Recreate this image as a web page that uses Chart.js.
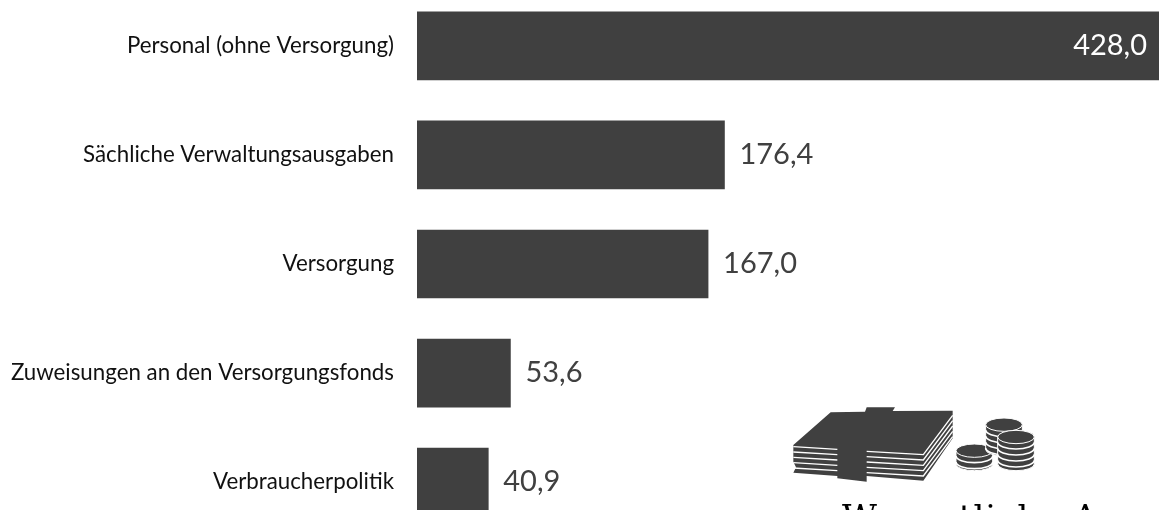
<!DOCTYPE html>
<html>
<head>
<meta charset="utf-8">
<style>
  html, body { margin: 0; padding: 0; background: #fff; overflow: hidden; }
  #wrap { position: relative; width: 1159px; height: 510px; overflow: hidden; }
  #chart { position: absolute; left: 0; top: -37px; display: block; }
  #title { position: absolute; left: 842px; top: 497px; font: 34px "DejaVu Serif", serif; color: #000; white-space: nowrap; letter-spacing: 1px; }
  #money { position: absolute; left: 760px; top: 390px; }
</style>
<script src="https://cdn.jsdelivr.net/npm/chart.js@4"></script>
</head>
<body>
<div id="wrap">
  <canvas id="chart" width="1159" height="602"></canvas>
  <svg id="money" width="399" height="120" viewBox="0 0 1197 360"></svg>
  <div id="title">Wesentliche Ausgaben</div>
</div>
<script>
const categories = [
  'Personal (ohne Versorgung)',
  'Sächliche Verwaltungsausgaben',
  'Versorgung',
  'Zuweisungen an den Versorgungsfonds',
  'Verbraucherpolitik'
];
const values = [428.0, 176.4, 167.0, 53.6, 40.9];

// puts the number right of the bar, or inside when the bar fills the width
const valueLabels = {
  id: 'valueLabels',
  afterDatasetsDraw(chart) {
    const ctx = chart.ctx;
    const meta = chart.getDatasetMeta(0);
    ctx.save();
    ctx.font = '29px Lato';
    ctx.textBaseline = 'middle';
    meta.data.forEach((bar, i) => {
      const text = values[i].toFixed(1).replace('.', ',');
      if (values[i] > 400) {
        ctx.fillStyle = '#fff';
        ctx.textAlign = 'right';
        ctx.fillText(text, chart.chartArea.right - 12, bar.y);
      } else {
        ctx.fillStyle = '#404040';
        ctx.textAlign = 'left';
        ctx.fillText(text, bar.x + 15, bar.y);
      }
    });
    ctx.restore();
  }
};

new Chart(document.getElementById('chart'), {
  type: 'bar',
  data: {
    labels: categories,
    datasets: [{
      data: values,
      backgroundColor: '#404040',
      barThickness: 68,
      borderWidth: 0
    }]
  },
  options: {
    indexAxis: 'y',
    responsive: false,
    animation: false,
    layout: { padding: 0 },
    plugins: { legend: { display: false }, tooltip: { enabled: false } },
    scales: {
      x: { display: false, min: 0, max: 425.7 },
      y: {
        grid: { display: false },
        border: { display: false },
        ticks: { color: '#111', font: { family: 'Lato', size: 22.3 }, padding: 15 },
        afterFit(scale) { scale.width = 417; }
      }
    }
  },
  plugins: [valueLabels]
});

// money icon, coordinates follow the svg viewBox
function drawMoney() {
  let s = '<path fill="#404040" d="M100 165 L212 67 L315 65 L320 52 L405 52 L398 63 L578 62 L578 145 L490 272 L320 258 L320 275 L232 265 L232 258 L100 248 L108 232 L100 215 Z"/>';
  for (let k = 0; k < 5; k++) {
    const d = 16 * k;
    s += `<path fill="none" stroke="#fff" stroke-width="4" d="M100 ${170 + d} L232 ${178 + d}"/>`;
    s += `<path fill="none" stroke="#fff" stroke-width="4" d="M320 ${184 + d} L490 ${194 + d} L578 ${76 + d}"/>`;
  }
  function coins(cx, top, bottom, rx) {
    const ry = 20;
    let c = `<path fill="#404040" stroke="#fff" stroke-width="3" d="M${cx - rx} ${top} L${cx - rx} ${bottom} A${rx} ${ry} 0 0 0 ${cx + rx} ${bottom} L${cx + rx} ${top} Z"/>`;
    c += `<ellipse fill="#404040" stroke="#fff" stroke-width="3" cx="${cx}" cy="${top}" rx="${rx}" ry="${ry}"/>`;
    for (let y = top + 16; y < bottom; y += 18) {
      c += `<path fill="none" stroke="#fff" stroke-width="5" d="M${cx - rx} ${y} A${rx} ${ry} 0 0 0 ${cx + rx} ${y}"/>`;
    }
    return c;
  }
  s += coins(643, 182, 222, 55);
  s += coins(732, 104, 178, 55);
  s += coins(768, 141, 222, 55);
  document.getElementById('money').innerHTML = s;
}
drawMoney();
</script>
</body>
</html>
